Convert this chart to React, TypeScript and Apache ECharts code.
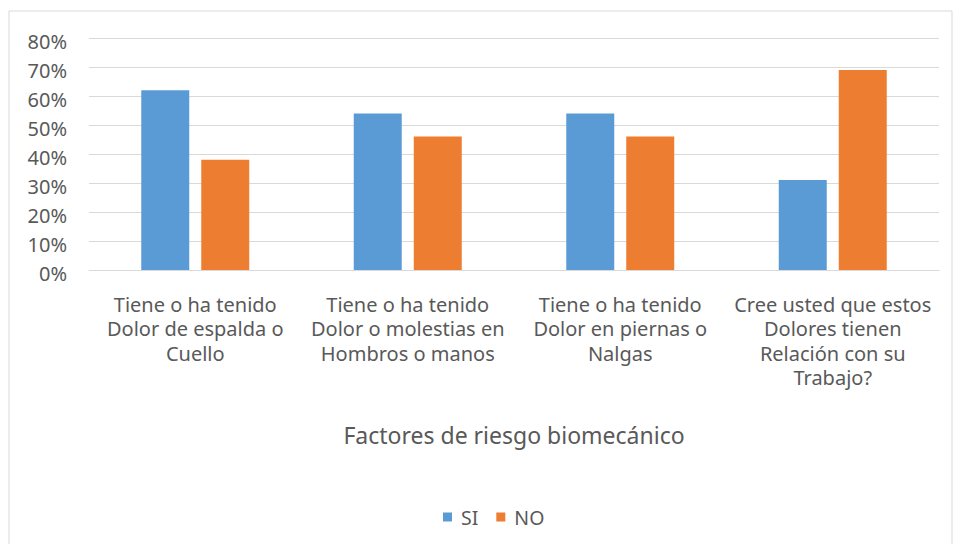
import React, { useEffect, useRef } from "react";
import * as echarts from "echarts";

const categories = [
  "Tiene o ha tenido\nDolor de espalda o\nCuello",
  "Tiene o ha tenido\nDolor o molestias en\nHombros o manos",
  "Tiene o ha tenido\nDolor en piernas o\nNalgas",
  "Cree usted que estos\nDolores tienen\nRelación con su\nTrabajo?",
];
const siValues = [62, 54, 54, 31];
const noValues = [38, 46, 46, 69];
const axisTitle = "Factores de riesgo biomecánico";

export default function App() {
  const ref = useRef<HTMLDivElement>(null);
  useEffect(() => {
    if (!ref.current) return;
    const chart = echarts.init(ref.current, undefined, { renderer: "svg" });
    const font = "Noto Sans, sans-serif";
    chart.setOption({
      animation: false,
      backgroundColor: "#ffffff",
      textStyle: { fontFamily: font },
      graphic: [
        {
          type: "rect",
          shape: { x: 9, y: 11, width: 943, height: 545 },
          style: { fill: "none", stroke: "#D9D9D9", lineWidth: 1 },
          silent: true,
        },
      ],
      grid: { left: 89, right: 22, top: 38, bottom: 274, containLabel: false },
      legend: {
        data: ["SI", "NO"],
        bottom: 12,
        left: 438,
        icon: "rect",
        itemWidth: 9,
        itemHeight: 9,
        itemGap: 18,
        textStyle: {
          fontFamily: font,
          fontSize: 19.5,
          color: "#595959",
          padding: [0, 0, 0, 4],
        },
      },
      xAxis: {
        type: "category",
        data: categories,
        name: axisTitle,
        nameLocation: "middle",
        nameGap: 153,
        nameTextStyle: { fontFamily: font, fontSize: 23, color: "#595959" },
        axisLine: { lineStyle: { color: "#D9D9D9" } },
        axisTick: { show: false },
        axisLabel: {
          fontFamily: font,
          fontSize: 20,
          color: "#595959",
          lineHeight: 24.5,
          margin: 22,
          interval: 0,
        },
      },
      yAxis: {
        type: "value",
        min: 0,
        max: 80,
        interval: 10,
        axisLine: { show: false },
        axisTick: { show: false },
        splitLine: { lineStyle: { color: "#D9D9D9", width: 1 } },
        axisLabel: {
          fontFamily: font,
          fontSize: 20,
          color: "#595959",
          margin: 22,
          formatter: "{a|{value}%}",
          rich: {
            a: {
              fontFamily: font,
              fontSize: 20,
              color: "#595959",
              padding: [7, 0, 0, 0],
            },
          },
        },
      },
      series: [
        {
          name: "SI",
          type: "bar",
          data: siValues,
          barWidth: 48,
          barGap: "25%",
          itemStyle: { color: "#5B9BD5" },
        },
        {
          name: "NO",
          type: "bar",
          data: noValues,
          barWidth: 48,
          barGap: "25%",
          itemStyle: { color: "#ED7D31" },
        },
      ],
    });
    return () => chart.dispose();
  }, []);
  return (
    <div
      ref={ref}
      style={{ position: "fixed", left: 0, top: 0, width: 961, height: 544 }}
    />
  );
}
